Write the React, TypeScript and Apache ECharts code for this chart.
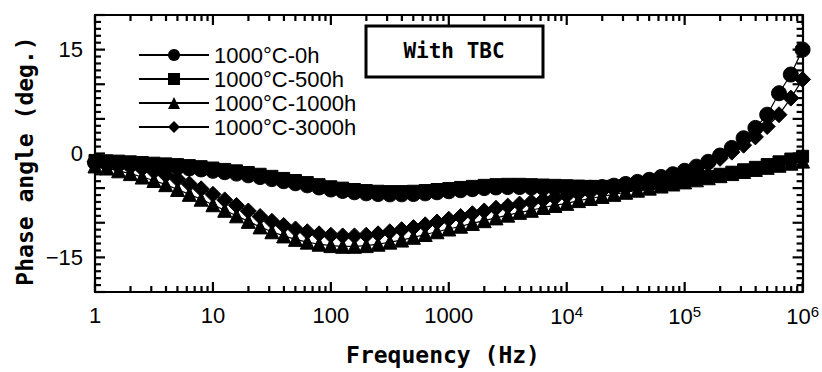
import React, { useEffect, useRef } from "react";
import * as echarts from "echarts";

// Frequencies (Hz), 10 points per decade
const FREQ = [
  1, 1.259, 1.585, 1.995, 2.512, 3.162, 3.981, 5.012, 6.31, 7.943,
  10, 12.59, 15.85, 19.95, 25.12, 31.62, 39.81, 50.12, 63.1, 79.43,
  100, 125.9, 158.5, 199.5, 251.2, 316.2, 398.1, 501.2, 631, 794.3,
  1000, 1259, 1585, 1995, 2512, 3162, 3981, 5012, 6310, 7943,
  10000, 12590, 15850, 19950, 25120, 31620, 39810, 50120, 63100, 79430,
  100000, 125900, 158500, 199500, 251200, 316200, 398100, 501200, 631000, 794300,
  1000000,
];

const PHASE_0H = [
  -1.3, -1.4, -1.5, -1.6, -1.7, -1.8, -1.9, -2.0, -2.15, -2.3,
  -2.5, -2.7, -2.9, -3.15, -3.4, -3.7, -4.0, -4.3, -4.6, -4.9,
  -5.2, -5.4, -5.6, -5.75, -5.85, -5.9, -5.9, -5.85, -5.75, -5.6,
  -5.45, -5.3, -5.15, -5.0, -4.9, -4.85, -4.85, -4.9, -4.95, -5.0,
  -5.0, -5.0, -4.95, -4.85, -4.65, -4.4, -4.1, -3.8, -3.4, -3.0,
  -2.5, -1.9, -1.2, -0.3, 0.8, 2.2, 3.7, 5.6, 8.7, 11.4,
  15.0,
];

const PHASE_500H = [
  -1.0, -1.05, -1.1, -1.2, -1.3, -1.4, -1.5, -1.6, -1.75, -1.9,
  -2.1, -2.3, -2.5, -2.75, -3.0, -3.3, -3.6, -3.9, -4.2, -4.5,
  -4.8, -5.0, -5.2, -5.35, -5.45, -5.5, -5.5, -5.45, -5.35, -5.2,
  -5.05, -4.9, -4.75, -4.6, -4.5, -4.45, -4.45, -4.5, -4.55, -4.6,
  -4.65, -4.7, -4.75, -4.75, -4.7, -4.6, -4.5, -4.35, -4.2, -4.0,
  -3.8, -3.55, -3.3, -3.0, -2.7, -2.35, -2.0, -1.6, -1.2, -0.8,
  -0.4,
];

const PHASE_1000H = [
  -1.8, -2.1, -2.5, -2.9, -3.4, -3.9, -4.5, -5.2, -5.9, -6.6,
  -7.4, -8.2, -9.0, -9.8, -10.6, -11.3, -11.9, -12.4, -12.8, -13.1,
  -13.3, -13.4, -13.4, -13.3, -13.1, -12.8, -12.5, -12.1, -11.7, -11.3,
  -10.9, -10.5, -10.1, -9.7, -9.3, -8.9, -8.5, -8.2, -7.8, -7.5,
  -7.2, -6.8, -6.5, -6.2, -5.9, -5.6, -5.3, -5.0, -4.7, -4.4,
  -4.1, -3.8, -3.5, -3.2, -2.9, -2.6, -2.3, -2.0, -1.7, -1.4,
  -1.1,
];

const PHASE_3000H = [
  -1.2, -1.4, -1.6, -1.9, -2.2, -2.6, -3.1, -3.7, -4.4, -5.1,
  -5.9, -6.7, -7.5, -8.3, -9.1, -9.8, -10.4, -10.9, -11.3, -11.6,
  -11.8, -11.9, -11.9, -11.8, -11.6, -11.3, -11.0, -10.7, -10.3, -9.9,
  -9.5, -9.1, -8.7, -8.3, -7.9, -7.6, -7.3, -7.0, -6.7, -6.4,
  -6.1, -5.8, -5.6, -5.4, -5.2, -5.0, -4.6, -4.2, -3.8, -3.3,
  -2.8, -2.2, -1.5, -0.7, 0.2, 1.2, 2.4, 3.9, 5.6, 8.0,
  10.7,
];

const SERIES_NAMES = ["1000°C-0h", "1000°C-500h", "1000°C-1000h", "1000°C-3000h"];
const SERIES_SYMBOLS = ["circle", "rect", "triangle", "diamond"];
const SERIES_VALUES = [PHASE_0H, PHASE_500H, PHASE_1000H, PHASE_3000H];

const Y_LABELS = [-15, 0, 15];

const LABEL_FONT = "'Liberation Sans', Arial, sans-serif";
const TITLE_FONT = "'DejaVu Sans Mono', 'Liberation Mono', monospace";

const X_MIN = 1;
const X_MAX = 1000000;
const Y_MIN = -20;
const Y_MAX = 20;

function frameLine() {
  return { show: true, onZero: false, lineStyle: { color: "#000", width: 2.2 } };
}

export default function App() {
  const ref = useRef<HTMLDivElement>(null);

  useEffect(() => {
    if (!ref.current) return;
    const chart = echarts.init(ref.current, undefined, { renderer: "svg" });

    // tick specs: [xValue, yValue, kind (0 = x tick, 1 = y tick), length]
    const ticks: number[][] = [];
    for (let k = 0; k <= 6; k++) {
      const d = Math.pow(10, k);
      ticks.push([d, 0, 0, 10]);
      if (k < 6) for (let m = 2; m <= 9; m++) ticks.push([m * d, 0, 0, 6]);
    }
    for (let v = Y_MIN; v <= Y_MAX; v++) {
      ticks.push([1, v, 1, v % 5 === 0 ? 10 : 6]);
    }

    const xLabelFmt = (v: number) => {
      const e = Math.round(Math.log10(v));
      if (e < 4) return "{b|" + String(Math.round(Math.pow(10, e))) + "}";
      return "{b|10}{s|" + e + "}";
    };

    const baseX = (position: string) => ({
      type: "log",
      logBase: 10,
      min: X_MIN,
      max: X_MAX,
      splitNumber: 6,
      position,
      splitLine: { show: false },
      axisTick: { show: false },
      axisLine: frameLine(),
    });

    const baseY = (position: string) => ({
      type: "value",
      position,
      min: Y_MIN,
      max: Y_MAX,
      interval: 5,
      splitLine: { show: false },
      axisTick: { show: false },
      axisLine: frameLine(),
    });

    const tickStroke = { stroke: "#000", lineWidth: 2.2 };

    const option: any = {
      animation: false,
      backgroundColor: "#fff",
      grid: { left: 95, right: 18, top: 15, bottom: 80, containLabel: false },
      legend: {
        orient: "vertical",
        left: 138,
        top: 44,
        padding: 0,
        itemGap: 2,
        itemWidth: 70,
        itemHeight: 15,
        data: SERIES_NAMES,
        lineStyle: { width: 2, color: "#000" },
        textStyle: {
          color: "#000",
          fontSize: 22,
          fontFamily: LABEL_FONT,
          lineHeight: 20,
        },
      },
      xAxis: [
        {
          ...baseX("bottom"),
          axisLabel: {
            show: true,
            margin: 12,
            color: "#000",
            formatter: xLabelFmt,
            rich: {
              b: { fontSize: 22, fontFamily: LABEL_FONT, color: "#000" },
              s: { fontSize: 15, fontFamily: LABEL_FONT, color: "#000", verticalAlign: "top", padding: [0, 0, 10, 0] },
            },
          },
        },
        { ...baseX("top"), axisLabel: { show: false } },
      ],
      yAxis: [
        {
          ...baseY("left"),
          axisLabel: {
            show: true,
            margin: 12,
            color: "#000",
            fontSize: 22,
            fontFamily: LABEL_FONT,
            formatter: (v: number) => (Y_LABELS.includes(v) ? (v < 0 ? "\u2212" + Math.abs(v) : String(v)) : ""),
          },
        },
        { ...baseY("right"), axisLabel: { show: false } },
      ],
      graphic: [
        {
          type: "rect",
          shape: { x: 366, y: 26, width: 177, height: 51 },
          style: { fill: "#fff", stroke: "#000", lineWidth: 3 },
          z: 10,
        },
        {
          type: "text",
          x: 454,
          y: 51,
          z: 11,
          style: {
            text: "With TBC",
            fill: "#000",
            font: "bold 21px " + TITLE_FONT,
            align: "center",
            verticalAlign: "middle",
          },
        },
        {
          type: "text",
          x: 443,
          y: 355,
          style: {
            text: "Frequency (Hz)",
            fill: "#000",
            font: "bold 23px " + TITLE_FONT,
            align: "center",
            verticalAlign: "middle",
          },
        },
        {
          type: "text",
          x: 25,
          y: 161,
          rotation: Math.PI / 2,
          style: {
            text: "Phase angle (deg.)",
            fill: "#000",
            font: "bold 23px " + TITLE_FONT,
            align: "center",
            verticalAlign: "middle",
          },
        },
      ],
      series: [
        {
          type: "custom",
          name: "ticks",
          xAxisIndex: 0,
          yAxisIndex: 0,
          silent: true,
          clip: false,
          z: 5,
          encode: { x: 0, y: 1 },
          data: ticks,
          renderItem: (_params: any, api: any) => {
            const kind = api.value(2);
            const len = api.value(3);
            if (kind === 0) {
              const xv = api.value(0);
              const b = api.coord([xv, Y_MIN]);
              const t = api.coord([xv, Y_MAX]);
              return {
                type: "group",
                children: [
                  { type: "line", shape: { x1: b[0], y1: b[1], x2: b[0], y2: b[1] - len }, style: tickStroke },
                  { type: "line", shape: { x1: t[0], y1: t[1], x2: t[0], y2: t[1] + len }, style: tickStroke },
                ],
              };
            }
            const yv = api.value(1);
            const l = api.coord([X_MIN, yv]);
            const r = api.coord([X_MAX, yv]);
            return {
              type: "group",
              children: [
                { type: "line", shape: { x1: l[0], y1: l[1], x2: l[0] + len, y2: l[1] }, style: tickStroke },
                { type: "line", shape: { x1: r[0], y1: r[1], x2: r[0] - len, y2: r[1] }, style: tickStroke },
              ],
            };
          },
        },
        ...SERIES_NAMES.map((name, si) => ({
          name,
          type: "line",
          xAxisIndex: 0,
          yAxisIndex: 0,
          z: 3,
          symbol: SERIES_SYMBOLS[si],
          symbolSize: si === 0 ? 15 : si === 1 ? 12 : si === 2 ? 14 : 16,
          showSymbol: true,
          itemStyle: { color: "#000", borderColor: "#000" },
          lineStyle: { color: "#000", width: 1.2 },
          data: FREQ.map((f, i) => [f, SERIES_VALUES[si][i]]),
        })),
      ],
    };

    chart.setOption(option);
    return () => chart.dispose();
  }, []);

  return (
    <div
      ref={ref}
      style={{ position: "absolute", left: 0, top: 0, width: 822, height: 372, background: "#fff" }}
    />
  );
}
